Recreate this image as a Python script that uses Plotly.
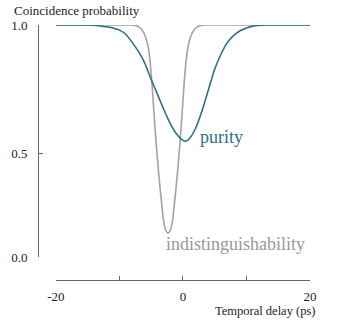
import plotly.graph_objects as go

# valores (atraso em ps, probabilidade de coincidência)
atraso_pur = [-20, -15, -13, -11.5, -10, -9, -8, -7, -6, -5, -4, -3, -2, -1, 0, 0.5, 1, 2, 3, 4, 5, 6, 7, 8, 9, 10, 11, 13, 20]
pureza = [1.0, 1.0, 0.996, 0.99, 0.978, 0.96, 0.925, 0.885, 0.835, 0.765, 0.70, 0.635, 0.575, 0.530, 0.503, 0.500, 0.510,
          0.555, 0.630, 0.720, 0.810, 0.875, 0.925, 0.955, 0.975, 0.987, 0.995, 1.0, 1.0]

atraso_ind = [-20, -8.55, -7.65, -6.95, -6.35, -5.85, -5.45, -5.15, -4.85, -4.55, -4.25, -3.95, -3.65, -3.35, -3.05, -2.7,
              -2.35, -2.0, -1.65, -1.35, -1.05, -0.75, -0.45, -0.15, 0.15, 0.45, 0.75, 1.15, 1.65, 2.25, 2.95, 3.85, 20]
indist = [1.0, 1.0, 0.999, 0.992, 0.975, 0.945, 0.90, 0.835, 0.735, 0.615, 0.50, 0.40, 0.31, 0.23, 0.155, 0.115,
          0.103, 0.115, 0.155, 0.23, 0.31, 0.40, 0.50, 0.615, 0.735, 0.835, 0.90, 0.945, 0.975, 0.992, 0.999, 1.0, 1.0]

xticks = [-20, -10, 0, 10, 20]
xticklabels = ["-20", "", "0", "", "20"]
yticks = [0.0, 0.445, 1.0]
yticklabels = ["0.0", "0.5", "1.0"]

teal = "#2b7085"
cinza = "#a3a3a3"
eixo = "#666666"
fonte = "Liberation Serif, Times New Roman, serif"

fig = go.Figure()
fig.add_trace(go.Scatter(x=atraso_ind, y=indist, mode="lines", hoverinfo="skip",
                         line=dict(color=cinza, width=1.6, shape="spline", smoothing=0.6)))
fig.add_trace(go.Scatter(x=atraso_pur, y=pureza, mode="lines", hoverinfo="skip",
                         line=dict(color=teal, width=1.6, shape="spline", smoothing=0.6)))

fig.update_layout(
    width=344, height=326,
    showlegend=False,
    hovermode=False,
    plot_bgcolor="white", paper_bgcolor="white",
    margin=dict(l=38, r=34, t=25, b=46),
    font=dict(family=fonte, size=13, color="#222222"),
    xaxis=dict(domain=[0.066, 1], range=[-20, 20], anchor="free", position=0, automargin=False,
               showline=True, linecolor=eixo, linewidth=1, showgrid=False, zeroline=False,
               ticks="inside", ticklen=4, tickcolor=eixo, tickvals=xticks, ticktext=xticklabels,
               ticklabelstandoff=4),
    yaxis=dict(domain=[0.09, 1], range=[0, 1], anchor="free", position=0, automargin=False,
               showline=True, linecolor=eixo, linewidth=1, showgrid=False, zeroline=False,
               ticks="inside", ticklen=4, tickcolor=eixo, tickvals=yticks, ticktext=yticklabels,
               ticklabelstandoff=8),
    annotations=[
        dict(text="Coincidence probability", xref="paper", yref="paper", x=-0.096, y=1.056,
             xanchor="left", yanchor="middle", showarrow=False, font=dict(size=13)),
        dict(text="Temporal delay (ps)", xref="paper", yref="paper", x=1.026, y=-0.12,
             xanchor="right", yanchor="middle", showarrow=False, font=dict(size=12.5)),
        dict(text="purity", x=6.1, y=0.517, showarrow=False, font=dict(size=18, color=teal)),
        dict(text="indistinguishability", x=8.3, y=0.056, showarrow=False,
             font=dict(size=18, color="#999999")),
    ],
)

# tira a margem padrão do body para a figura ocupar a janela inteira
fig.write_html("out.html", config={"displayModeBar": False, "staticPlot": True},
               post_script="document.body.style.margin='0px';")
